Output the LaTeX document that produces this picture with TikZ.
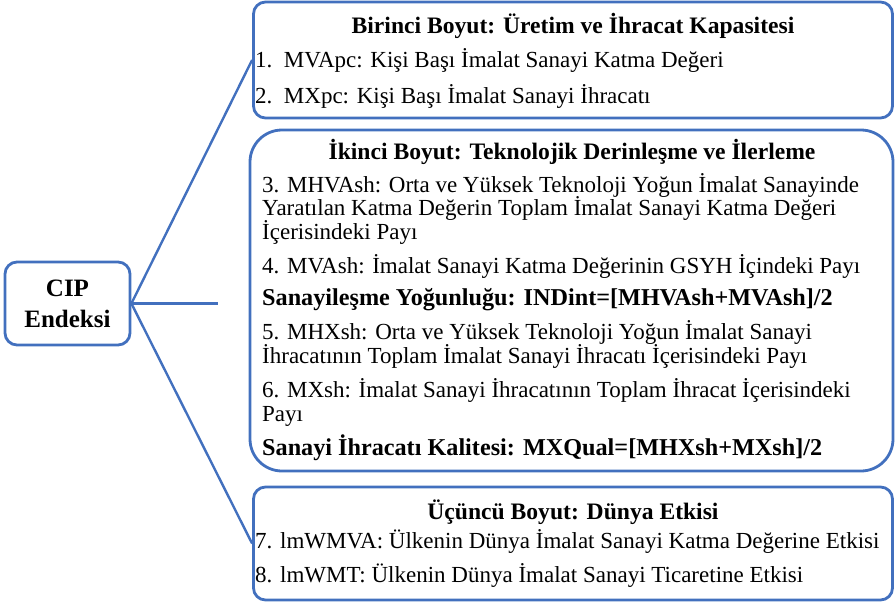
\documentclass[tikz,border=0pt]{standalone}
\usepackage{fontspec}
\setmainfont{Liberation Serif}
\usetikzlibrary{
    positioning,
    shapes.geometric
}
\definecolor{cipblue}{HTML}{4270BE}
\tikzset{
    dimbox/.style={
        draw=cipblue,
        line width=2.8pt,
        rounded corners=12pt,
        inner sep=0pt
    },
    bigbox/.style={
        dimbox,
        rounded corners=32pt
    },
    itemtext/.style={
        anchor=base west,
        inner sep=0pt,
        font=\fontsize{23}{25}\selectfont
    },
    boldtext/.style={
        itemtext,
        font=\fontsize{24.2}{26}\selectfont\bfseries
    },
    headtext/.style={
        anchor=base,
        inner sep=0pt,
        font=\fontsize{23.6}{26}\selectfont\bfseries
    }
}

\begin{document}
\begin{tikzpicture}[
    x=1pt, y=-1pt,
    link/.style={draw=cipblue, line width=2.4pt}
    ]

    \useasboundingbox (0, 0) rectangle (895, 605);

    \node[dimbox, minimum width=125pt, minimum height=83pt, align=center,
          font=\fontsize{25}{31}\selectfont\bfseries] at (67.5, 303.5) (cip) {CIP\\Endeksi};

    \node[dimbox, minimum width=639pt, minimum height=116pt] at (573, 60) (boyut1) {};
    \node[bigbox, minimum width=643pt, minimum height=341pt] at (571.5, 300.5) (boyut2) {};
    \node[dimbox, minimum width=639pt, minimum height=113pt] at (573, 543.5) (boyut3) {};
    \coordinate (to-boyut2) at (218, 303.5);

    % Birinci boyut
    \node[headtext] at (573, 34) (baslik1) {Birinci Boyut: Üretim ve İhracat Kapasitesi};
    \node[itemtext] at (255, 67) (mvapc) {1.\ \ MVApc: Kişi Başı İmalat Sanayi Katma Değeri};
    \node[itemtext] at (255, 103) (mxpc) {2.\ \ MXpc: Kişi Başı İmalat Sanayi İhracatı};

    % Ikinci boyut
    \node[headtext] at (572, 159) (baslik2) {İkinci Boyut: Teknolojik Derinleşme ve İlerleme};
    \node[itemtext] at (262, 192) (mhvash-a) {3. MHVAsh: Orta ve Yüksek Teknoloji Yoğun İmalat Sanayinde};
    \node[itemtext] at (262, 215) (mhvash-b) {Yaratılan Katma Değerin Toplam İmalat Sanayi Katma Değeri};
    \node[itemtext] at (262, 239) (mhvash-c) {İçerisindeki Payı};
    \node[itemtext] at (262, 273) (mvash) {4. MVAsh: İmalat Sanayi Katma Değerinin GSYH İçindeki Payı};
    \node[boldtext] at (262, 305) (indint) {Sanayileşme Yoğunluğu: INDint=[MHVAsh+MVAsh]/2};
    \node[itemtext] at (262, 339) (mhxsh-a) {5. MHXsh: Orta ve Yüksek Teknoloji Yoğun İmalat Sanayi};
    \node[itemtext] at (262, 363) (mhxsh-b) {İhracatının Toplam İmalat Sanayi İhracatı İçerisindeki Payı};
    \node[itemtext] at (262, 397) (mxsh-a) {6. MXsh: İmalat Sanayi İhracatının Toplam İhracat İçerisindeki};
    \node[itemtext] at (262, 421) (mxsh-b) {Payı};
    \node[boldtext] at (262, 455) (mxqual) {Sanayi İhracatı Kalitesi: MXQual=[MHXsh+MXsh]/2};

    % Ucuncu boyut
    \node[headtext] at (573, 519) (baslik3) {Üçüncü Boyut: Dünya Etkisi};
    \node[itemtext] at (255, 548) (lmwmva) {7. lmWMVA: Ülkenin Dünya İmalat Sanayi Katma Değerine Etkisi};
    \node[itemtext] at (255, 582) (lmwmt) {8. lmWMT: Ülkenin Dünya İmalat Sanayi Ticaretine Etkisi};

    \draw[link] (cip.east) -- (boyut1.west);
    \draw[link] (cip.east) -- (to-boyut2);
    \draw[link] (cip.east) -- (boyut3.west);

\end{tikzpicture}
\end{document}
